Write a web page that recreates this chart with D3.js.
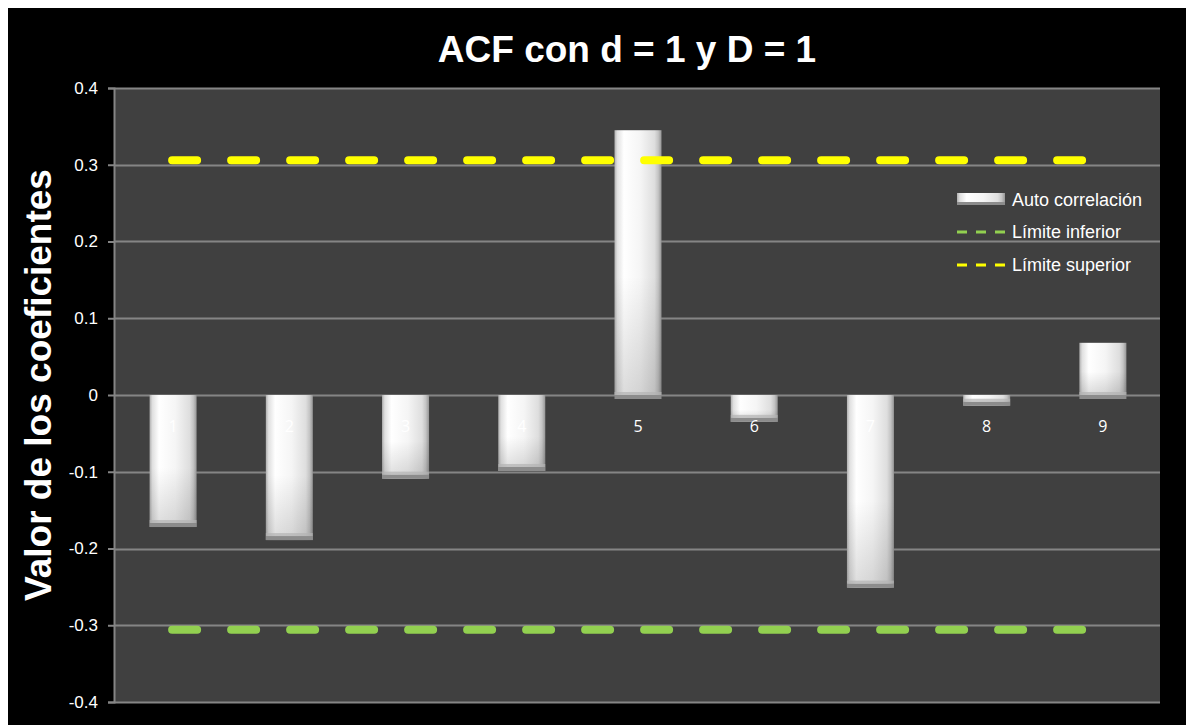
<!DOCTYPE html>
<html>
<head>
<meta charset="utf-8">
<script src="https://cdn.jsdelivr.net/npm/d3@7"></script>
<style>
  html, body { margin: 0; padding: 0; background: #ffffff; }
  svg { display: block; }
</style>
</head>
<body>
<svg id="chart" width="1186" height="725"></svg>
<script>
const categories = ["1", "2", "3", "4", "5", "6", "7", "8", "9"];
const acfValues = [-0.172, -0.189, -0.109, -0.099, 0.345, -0.035, -0.251, -0.014, 0.068];
const lowerLimit = [-0.306, -0.306, -0.306, -0.306, -0.306, -0.306, -0.306, -0.306, -0.306];
const upperLimit = [0.306, 0.306, 0.306, 0.306, 0.306, 0.306, 0.306, 0.306, 0.306];
const yTicks = [-0.4, -0.3, -0.2, -0.1, 0, 0.1, 0.2, 0.3, 0.4];
const yTickLabels = ["-0.4", "-0.3", "-0.2", "-0.1", "0", "0.1", "0.2", "0.3", "0.4"];
const titleText = "ACF con d = 1 y D = 1";
const yTitleText = "Valor de los coeficientes";
const legendLabels = ["Auto correlación", "Límite inferior", "Límite superior"];

const svg = d3.select("#chart");
const W = 1186, H = 725;
const plot = { left: 114, right: 1160, top: 88, bottom: 702 };

// outer backgrounds
svg.append("rect").attr("x", 0).attr("y", 0).attr("width", W).attr("height", H).attr("fill", "#ffffff");
svg.append("rect").attr("x", 8).attr("y", 8).attr("width", W - 8).attr("height", H - 8).attr("fill", "#000000");

const defs = svg.append("defs");
const hg = defs.append("linearGradient").attr("id", "barH").attr("x1", "0%").attr("x2", "100%").attr("y1", "0%").attr("y2", "0%");
[[0, "#b0b0b0"], [0.06, "#e0e0e0"], [0.2, "#ffffff"], [0.55, "#f5f5f5"], [0.85, "#dedede"], [0.93, "#c4c4c4"], [1, "#969696"]]
  .forEach(([o, c]) => hg.append("stop").attr("offset", o).attr("stop-color", c));
const vg = defs.append("linearGradient").attr("id", "barV").attr("x1", "0%").attr("x2", "0%").attr("y1", "0%").attr("y2", "100%");
[[0, 0], [0.55, 0], [1, 0.14]]
  .forEach(([o, op]) => vg.append("stop").attr("offset", o).attr("stop-color", "#000").attr("stop-opacity", op));

const xc = d3.scalePoint().domain(categories).range([plot.left, plot.right]).padding(0.5);
const y = d3.scaleLinear().domain([-0.4, 0.4]).range([plot.bottom, plot.top]);

// plot area
svg.append("rect").attr("x", plot.left).attr("y", plot.top)
  .attr("width", plot.right - plot.left).attr("height", plot.bottom - plot.top).attr("fill", "#404040");

// gridlines
svg.append("g").selectAll("line").data(yTicks).join("line")
  .attr("x1", plot.left).attr("x2", plot.right)
  .attr("y1", d => Math.round(y(d)) + 0.5).attr("y2", d => Math.round(y(d)) + 0.5)
  .attr("stroke", "#858585").attr("stroke-width", 2);

// y axis
const yAxis = d3.axisLeft(y).tickValues(yTicks).tickSize(6).tickPadding(10)
  .tickFormat((d, i) => yTickLabels[i]);
const ya = svg.append("g").attr("transform", `translate(${plot.left},0)`).call(yAxis);
ya.select(".domain").attr("stroke", "#858585").attr("stroke-width", 2);
ya.selectAll(".tick line").attr("stroke", "#858585").attr("stroke-width", 2);
ya.selectAll(".tick text").attr("fill", "#ffffff").attr("font-family", "Liberation Sans, Arial, sans-serif").attr("font-size", 17);

// bars
const bw = 47;
const bars = svg.append("g");
acfValues.forEach((v, i) => {
  const cx = xc(categories[i]);
  const x0 = cx - bw / 2 + 1;
  const y0 = y(0), y1 = y(v);
  const top = Math.min(y0, y1), h = Math.abs(y1 - y0);
  bars.append("rect").attr("x", x0).attr("y", top).attr("width", bw).attr("height", h).attr("fill", "url(#barH)");
  bars.append("rect").attr("x", x0).attr("y", top).attr("width", bw).attr("height", h).attr("fill", "url(#barV)");
  const sy = v >= 0 ? y0 : y1 - 4;
  bars.append("rect").attr("x", x0).attr("y", sy).attr("width", bw).attr("height", 4).attr("fill", "#8c8c8c");
  bars.append("rect").attr("x", x0).attr("y", sy - 3).attr("width", bw).attr("height", 3).attr("fill", "#b4b4b4").attr("opacity", 0.7);
});

// category labels
svg.append("g").selectAll("text").data(categories).join("text")
  .attr("x", d => xc(d) + 1).attr("y", y(0) + 37)
  .attr("text-anchor", "middle").attr("fill", "#ffffff")
  .attr("font-family", "Open Sans, DejaVu Sans, sans-serif").attr("font-size", 16)
  .text(d => d);

// limit lines
const line = d3.line().x((d, i) => xc(categories[i])).y(d => y(d));
svg.append("path").datum(lowerLimit).attr("d", line).attr("fill", "none")
  .attr("stroke", "#92d050").attr("stroke-width", 8).attr("stroke-linecap", "round")
  .attr("stroke-dasharray", "25,34");
svg.append("path").datum(upperLimit).attr("d", line).attr("fill", "none")
  .attr("stroke", "#ffff00").attr("stroke-width", 8).attr("stroke-linecap", "round")
  .attr("stroke-dasharray", "25,34");

// title
svg.append("text").attr("x", 627).attr("y", 62).attr("text-anchor", "middle")
  .attr("fill", "#ffffff").attr("font-family", "Liberation Sans, Arial, sans-serif")
  .attr("font-weight", "bold").attr("font-size", 37).text(titleText);

// y title
svg.append("text").attr("transform", `translate(51,385) rotate(-90)`).attr("text-anchor", "middle")
  .attr("fill", "#ffffff").attr("font-family", "Liberation Sans, Arial, sans-serif")
  .attr("font-weight", "bold").attr("font-size", 37).text(yTitleText);

// legend
const lg = svg.append("g").attr("font-family", "Liberation Sans, Arial, sans-serif").attr("font-size", 18).attr("fill", "#ffffff");
const lx = 957, rows = [200, 232, 265];
lg.append("rect").attr("x", lx).attr("y", rows[0] - 7).attr("width", 48).attr("height", 12).attr("fill", "url(#barH)");
lg.append("rect").attr("x", lx).attr("y", rows[0] + 2).attr("width", 48).attr("height", 3).attr("fill", "#8c8c8c");
lg.append("line").attr("x1", lx).attr("x2", lx + 48).attr("y1", rows[1]).attr("y2", rows[1])
  .attr("stroke", "#92d050").attr("stroke-width", 3).attr("stroke-dasharray", "10,9");
lg.append("line").attr("x1", lx).attr("x2", lx + 48).attr("y1", rows[2]).attr("y2", rows[2])
  .attr("stroke", "#ffff00").attr("stroke-width", 3).attr("stroke-dasharray", "10,9");
legendLabels.forEach((t, i) => {
  lg.append("text").attr("x", lx + 55).attr("y", rows[i]).attr("dy", "0.35em").text(t);
});
</script>
</body>
</html>
